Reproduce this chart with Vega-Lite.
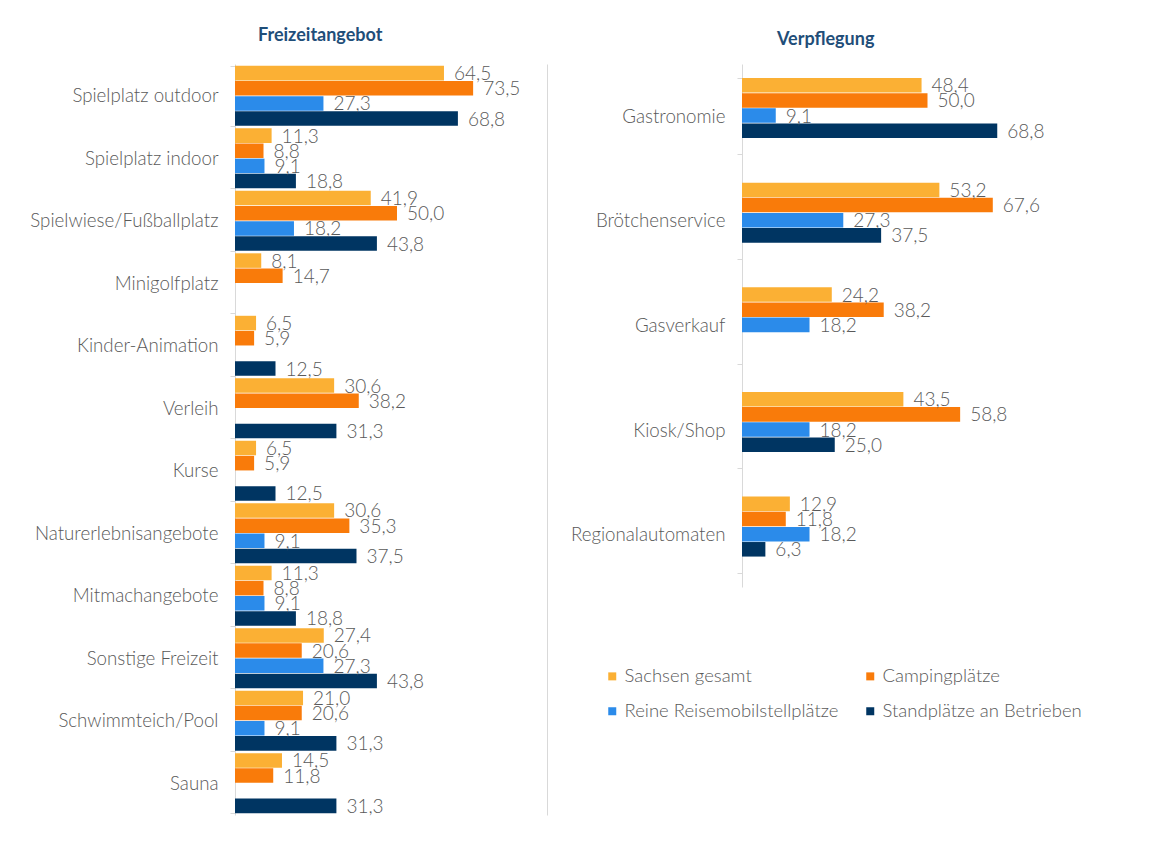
{
  "$schema": "https://vega.github.io/schema/vega-lite/v6.json",
  "background": "white",
  "padding": {"left": 29, "top": 27, "right": 0, "bottom": 0},
  "autosize": {"type": "pad"},
  "config": {
    "font": "Lato",
    "locale": {"number": {"decimal": ",", "thousands": ".", "grouping": [3], "currency": ["", " €"]}},
    "view": {"stroke": null},
    "axis": {"labelFont": "Lato", "labelFontSize": 18.7, "labelFontWeight": 300, "labelColor": "#595959", "domainColor": "#d9d9d9", "tickColor": "#d9d9d9", "tickSize": 5, "labelPadding": 12, "labelLimit": 300, "title": null}
  },
  "datasets": {
    "freizeit": [
      {"k": "Spielplatz outdoor", "g": "Sachsen gesamt", "v": 64.5},
      {"k": "Spielplatz outdoor", "g": "Campingplätze", "v": 73.5},
      {"k": "Spielplatz outdoor", "g": "Reine Reisemobilstellplätze", "v": 27.3},
      {"k": "Spielplatz outdoor", "g": "Standplätze an Betrieben", "v": 68.8},
      {"k": "Spielplatz indoor", "g": "Sachsen gesamt", "v": 11.3},
      {"k": "Spielplatz indoor", "g": "Campingplätze", "v": 8.8},
      {"k": "Spielplatz indoor", "g": "Reine Reisemobilstellplätze", "v": 9.1},
      {"k": "Spielplatz indoor", "g": "Standplätze an Betrieben", "v": 18.8},
      {"k": "Spielwiese/Fußballplatz", "g": "Sachsen gesamt", "v": 41.9},
      {"k": "Spielwiese/Fußballplatz", "g": "Campingplätze", "v": 50.0},
      {"k": "Spielwiese/Fußballplatz", "g": "Reine Reisemobilstellplätze", "v": 18.2},
      {"k": "Spielwiese/Fußballplatz", "g": "Standplätze an Betrieben", "v": 43.8},
      {"k": "Minigolfplatz", "g": "Sachsen gesamt", "v": 8.1},
      {"k": "Minigolfplatz", "g": "Campingplätze", "v": 14.7},
      {"k": "Kinder-Animation", "g": "Sachsen gesamt", "v": 6.5},
      {"k": "Kinder-Animation", "g": "Campingplätze", "v": 5.9},
      {"k": "Kinder-Animation", "g": "Standplätze an Betrieben", "v": 12.5},
      {"k": "Verleih", "g": "Sachsen gesamt", "v": 30.6},
      {"k": "Verleih", "g": "Campingplätze", "v": 38.2},
      {"k": "Verleih", "g": "Standplätze an Betrieben", "v": 31.3},
      {"k": "Kurse", "g": "Sachsen gesamt", "v": 6.5},
      {"k": "Kurse", "g": "Campingplätze", "v": 5.9},
      {"k": "Kurse", "g": "Standplätze an Betrieben", "v": 12.5},
      {"k": "Naturerlebnisangebote", "g": "Sachsen gesamt", "v": 30.6},
      {"k": "Naturerlebnisangebote", "g": "Campingplätze", "v": 35.3},
      {"k": "Naturerlebnisangebote", "g": "Reine Reisemobilstellplätze", "v": 9.1},
      {"k": "Naturerlebnisangebote", "g": "Standplätze an Betrieben", "v": 37.5},
      {"k": "Mitmachangebote", "g": "Sachsen gesamt", "v": 11.3},
      {"k": "Mitmachangebote", "g": "Campingplätze", "v": 8.8},
      {"k": "Mitmachangebote", "g": "Reine Reisemobilstellplätze", "v": 9.1},
      {"k": "Mitmachangebote", "g": "Standplätze an Betrieben", "v": 18.8},
      {"k": "Sonstige Freizeit", "g": "Sachsen gesamt", "v": 27.4},
      {"k": "Sonstige Freizeit", "g": "Campingplätze", "v": 20.6},
      {"k": "Sonstige Freizeit", "g": "Reine Reisemobilstellplätze", "v": 27.3},
      {"k": "Sonstige Freizeit", "g": "Standplätze an Betrieben", "v": 43.8},
      {"k": "Schwimmteich/Pool", "g": "Sachsen gesamt", "v": 21.0},
      {"k": "Schwimmteich/Pool", "g": "Campingplätze", "v": 20.6},
      {"k": "Schwimmteich/Pool", "g": "Reine Reisemobilstellplätze", "v": 9.1},
      {"k": "Schwimmteich/Pool", "g": "Standplätze an Betrieben", "v": 31.3},
      {"k": "Sauna", "g": "Sachsen gesamt", "v": 14.5},
      {"k": "Sauna", "g": "Campingplätze", "v": 11.8},
      {"k": "Sauna", "g": "Standplätze an Betrieben", "v": 31.3}
    ],
    "verpflegung": [
      {"k": "Gastronomie", "g": "Sachsen gesamt", "v": 48.4},
      {"k": "Gastronomie", "g": "Campingplätze", "v": 50.0},
      {"k": "Gastronomie", "g": "Reine Reisemobilstellplätze", "v": 9.1},
      {"k": "Gastronomie", "g": "Standplätze an Betrieben", "v": 68.8},
      {"k": "Brötchenservice", "g": "Sachsen gesamt", "v": 53.2},
      {"k": "Brötchenservice", "g": "Campingplätze", "v": 67.6},
      {"k": "Brötchenservice", "g": "Reine Reisemobilstellplätze", "v": 27.3},
      {"k": "Brötchenservice", "g": "Standplätze an Betrieben", "v": 37.5},
      {"k": "Gasverkauf", "g": "Sachsen gesamt", "v": 24.2},
      {"k": "Gasverkauf", "g": "Campingplätze", "v": 38.2},
      {"k": "Gasverkauf", "g": "Reine Reisemobilstellplätze", "v": 18.2},
      {"k": "Kiosk/Shop", "g": "Sachsen gesamt", "v": 43.5},
      {"k": "Kiosk/Shop", "g": "Campingplätze", "v": 58.8},
      {"k": "Kiosk/Shop", "g": "Reine Reisemobilstellplätze", "v": 18.2},
      {"k": "Kiosk/Shop", "g": "Standplätze an Betrieben", "v": 25.0},
      {"k": "Regionalautomaten", "g": "Sachsen gesamt", "v": 12.9},
      {"k": "Regionalautomaten", "g": "Campingplätze", "v": 11.8},
      {"k": "Regionalautomaten", "g": "Reine Reisemobilstellplätze", "v": 18.2},
      {"k": "Regionalautomaten", "g": "Standplätze an Betrieben", "v": 6.3}
    ]
  },
  "spacing": 23,
  "resolve": {"scale": {"color": "independent"}},
  "hconcat": [
    {
      "width": 312,
      "height": 751,
      "title": {"text": "Freizeitangebot", "anchor": "start", "frame": "group", "dx": 23, "fontSize": 18, "fontWeight": "bold", "color": "#1f4e79", "offset": 10, "font": "Lato"},
      "data": {"name": "freizeit"},
      "encoding": {
        "yOffset": {"field": "g", "type": "nominal", "sort": ["Sachsen gesamt", "Campingplätze", "Reine Reisemobilstellplätze", "Standplätze an Betrieben"], "scale": {"paddingInner": 0.04}},
        "x": {"field": "v", "type": "quantitative", "scale": {"domain": [0, 96.3]}, "axis": null}
      },
      "layer": [
        {
          "mark": {"type": "bar"},
          "encoding": {
            "y": {"field": "k", "type": "nominal", "sort": ["Spielplatz outdoor", "Spielplatz indoor", "Spielwiese/Fußballplatz", "Minigolfplatz", "Kinder-Animation", "Verleih", "Kurse", "Naturerlebnisangebote", "Mitmachangebote", "Sonstige Freizeit", "Schwimmteich/Pool", "Sauna"], "scale": {"paddingInner": 0.04, "paddingOuter": 0.03}, "axis": {"orient": "left", "tickBand": "extent", "minExtent": 178, "maxExtent": 178}},
            "color": {"field": "g", "type": "nominal", "scale": {"domain": ["Sachsen gesamt", "Campingplätze", "Reine Reisemobilstellplätze", "Standplätze an Betrieben"], "range": ["#FBB034", "#F97B0A", "#2B8BEA", "#003562"]}, "legend": null}
          }
        },
        {
          "mark": {"type": "text", "align": "left", "baseline": "middle", "dx": 10, "dy": 1, "fontSize": 19, "fontWeight": 300, "color": "#595959", "font": "Lato"},
          "encoding": {
            "y": {"field": "k", "type": "nominal", "sort": ["Spielplatz outdoor", "Spielplatz indoor", "Spielwiese/Fußballplatz", "Minigolfplatz", "Kinder-Animation", "Verleih", "Kurse", "Naturerlebnisangebote", "Mitmachangebote", "Sonstige Freizeit", "Schwimmteich/Pool", "Sauna"], "scale": {"paddingInner": 0.04, "paddingOuter": 0.03}, "axis": {"orient": "right", "labels": false, "ticks": false, "domain": true, "minExtent": 0, "maxExtent": 0}},
            "text": {"field": "v", "type": "quantitative", "format": ".1f"}
          }
        }
      ],
      "resolve": {"axis": {"y": "independent"}}
    },
    {
      "width": 371,
      "height": 523,
      "title": {"text": "Verpflegung", "anchor": "start", "frame": "group", "dx": 35, "fontSize": 18, "fontWeight": "bold", "color": "#1f4e79", "offset": 6, "font": "Lato"},
      "data": {"name": "verpflegung"},
      "encoding": {
        "y": {"field": "k", "type": "nominal", "sort": ["Gastronomie", "Brötchenservice", "Gasverkauf", "Kiosk/Shop", "Regionalautomaten"], "scale": {"paddingInner": 0.27, "paddingOuter": 0.134}, "axis": {"orient": "left", "tickBand": "extent", "minExtent": 168, "maxExtent": 168}},
        "yOffset": {"field": "g", "type": "nominal", "sort": ["Sachsen gesamt", "Campingplätze", "Reine Reisemobilstellplätze", "Standplätze an Betrieben"], "scale": {"paddingInner": 0.03}},
        "x": {"field": "v", "type": "quantitative", "scale": {"domain": [0, 100]}, "axis": null}
      },
      "layer": [
        {
          "mark": {"type": "bar"},
          "encoding": {
            "color": {"field": "g", "type": "nominal", "scale": {"domain": ["Sachsen gesamt", "Campingplätze", "Reine Reisemobilstellplätze", "Standplätze an Betrieben"], "range": ["#FBB034", "#F97B0A", "#2B8BEA", "#003562"]}, "legend": {"title": null, "orient": "none", "direction": "horizontal", "legendX": -139, "legendY": 603, "columns": 2, "symbolType": "square", "symbolSize": 64, "symbolStrokeWidth": 0, "labelFontSize": 18.5, "labelFontWeight": 300, "labelLimit": 400, "labelColor": "#595959", "labelFont": "Lato", "labelOffset": 3, "rowPadding": 16, "columnPadding": 22}}
          }
        },
        {
          "mark": {"type": "text", "align": "left", "baseline": "middle", "dx": 10, "dy": 1, "fontSize": 19, "fontWeight": 300, "color": "#595959", "font": "Lato"},
          "encoding": {
            "text": {"field": "v", "type": "quantitative", "format": ".1f"}
          }
        }
      ]
    }
  ]
}
